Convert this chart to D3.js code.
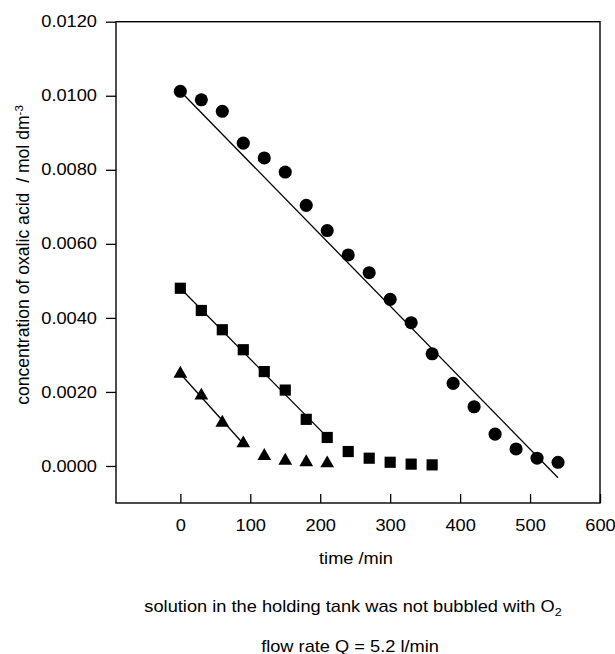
<!DOCTYPE html>
<html><head><meta charset="utf-8">
<script src="https://cdn.jsdelivr.net/npm/d3@7"></script>
<style>
html,body{margin:0;padding:0;background:#fff;}
text{font-family:"Liberation Sans",Arial,sans-serif;fill:#000;}
</style></head>
<body><svg id="chart" width="615" height="654"></svg>
<script>
// ---- data ----
const circleTimes = [0,30,60,90,120,150,180,210,240,270,300,330,360,390,420,450,480,510,540];
const circleConc  = [0.01012,0.00989,0.00958,0.00872,0.00832,0.00794,0.00704,0.00636,0.00570,0.00522,0.00450,0.00387,0.00303,0.00223,0.00160,0.00086,0.00046,0.00021,0.00010];
const squareTimes = [0,30,60,90,120,150,180,210,240,270,300,330,360];
const squareConc  = [0.00480,0.00420,0.00368,0.00314,0.00255,0.00205,0.00126,0.00077,0.00039,0.00021,0.00010,0.00005,0.00003];
const triTimes    = [0,30,60,90,120,150,180,210];
const triConc     = [0.00249,0.00190,0.00117,0.00061,0.00027,0.00014,0.00010,0.00007];
// fitted lines (endpoints)
const circleFitT = [0,540],  circleFitC = [0.01012,-0.00032];
const squareFitT = [0,210],  squareFitC = [0.00480,0.00078];
const triFitT    = [0,90],   triFitC    = [0.00249,0.00060];
const xTicks = [0,100,200,300,400,500,600];
const yTicks = [0,0.002,0.004,0.006,0.008,0.010,0.012];
const xTitle = "time /min";
const caption1 = "solution in the holding tank was not bubbled with O";
const caption2 = "flow rate Q = 5.2 l/min";

// ---- layout ----
const L=116, R=600, T=21.7, B=503;
const SX = 1.14;   // horizontal stretch of the lettering in the original figure
const FS = 16;
const svg = d3.select("#chart");
const x = d3.scaleLinear().domain([-92,600]).range([L,R]);
const y = d3.scaleLinear().domain([-0.001,0.012]).range([B,T]);

// frame
svg.append("rect").attr("x",L).attr("y",T).attr("width",R-L).attr("height",B-T)
  .attr("fill","none").attr("stroke","#000").attr("stroke-width",1.4);

// y axis (ticks outward)
const yAxis = d3.axisLeft(y).tickValues(yTicks).tickSize(10).tickPadding(9)
  .tickFormat(d3.format(".4f"));
const gy = svg.append("g").attr("transform",`translate(${L},0)`).call(yAxis);
gy.select(".domain").remove();
gy.selectAll(".tick line").attr("stroke","#000").attr("stroke-width",1.3);
gy.selectAll(".tick text").attr("font-size",FS).attr("font-family","Liberation Sans, Arial, sans-serif")
  .attr("x",-19/SX).attr("transform",`scale(${SX},1)`);

// x axis (ticks inward, labels below)
const xAxis = d3.axisBottom(x).tickValues(xTicks).tickSize(-9).tickPadding(14)
  .tickFormat(d3.format("d"));
const gx = svg.append("g").attr("transform",`translate(0,${B})`).call(xAxis);
gx.select(".domain").remove();
gx.selectAll(".tick line").attr("stroke","#000").attr("stroke-width",1.3);
gx.selectAll(".tick text").attr("font-size",FS).attr("font-family","Liberation Sans, Arial, sans-serif")
  .attr("y",22).attr("dy","0.35em").attr("transform",`scale(${SX},1)`);

// fitted lines
const line = d3.line().x(d=>x(d[0])).y(d=>y(d[1]));
[[circleFitT,circleFitC],[squareFitT,squareFitC],[triFitT,triFitC]].forEach(([t,c])=>{
  svg.append("path").attr("d",line(d3.zip(t,c))).attr("fill","none")
    .attr("stroke","#000").attr("stroke-width",1.3);
});

// markers
const circ = d3.zip(circleTimes,circleConc);
svg.append("g").selectAll("path").data(circ).join("path")
  .attr("d",d3.symbol(d3.symbolCircle,135)())
  .attr("transform",d=>`translate(${x(d[0])},${y(d[1])})`).attr("fill","#000");
const sq = d3.zip(squareTimes,squareConc);
svg.append("g").selectAll("path").data(sq).join("path")
  .attr("d",d3.symbol(d3.symbolSquare,125)())
  .attr("transform",d=>`translate(${x(d[0])},${y(d[1])})`).attr("fill","#000");
const tr = d3.zip(triTimes,triConc);
svg.append("g").selectAll("path").data(tr).join("path")
  .attr("d",d3.symbol(d3.symbolTriangle,82)())
  .attr("transform",d=>`translate(${x(d[0])},${y(d[1])})`).attr("fill","#000");

// centred, horizontally stretched text helper
function stretched(cx, cy){
  return svg.append("g").attr("transform",`translate(${cx},${cy}) scale(${SX},1)`)
    .append("text").attr("text-anchor","middle").attr("dy","0.35em").attr("font-size",FS);
}
stretched(356,558).text(xTitle);
const c1 = stretched(353,606);
c1.append("tspan").text(caption1);
c1.append("tspan").attr("font-size",11).attr("dy","0.4em").text("2");
stretched(350,646).text(caption2);

// y axis title
const yl = svg.append("text").attr("transform",`translate(23,255) rotate(-90)`)
  .attr("text-anchor","middle").attr("dy","0.35em").attr("font-size",17.6);
yl.append("tspan").text("concentration of oxalic acid\u00a0\u00a0/ mol dm");
yl.append("tspan").attr("font-size",11.5).attr("dy","-0.55em").text("-3");
</script>
</body></html>
